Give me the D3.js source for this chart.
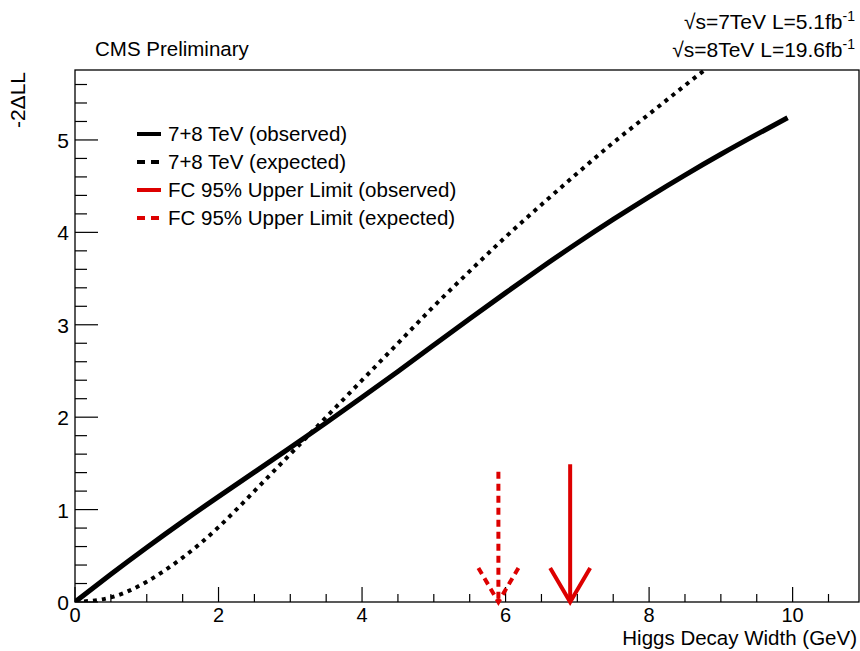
<!DOCTYPE html>
<html><head><meta charset="utf-8">
<script src="https://cdn.jsdelivr.net/npm/d3@7"></script>
<style>body{margin:0;background:#fff}svg{display:block}text{font-family:"Liberation Sans",Arial,Helvetica,sans-serif}</style>
</head><body><svg id="c" width="860" height="651"></svg>
<script>
// ---- data ----
const obsX = [0, 0.5, 1, 1.5, 2, 2.5, 3, 3.5, 4, 4.5, 5, 5.5, 6, 6.5, 7, 7.5, 8, 8.5, 9, 9.5, 9.93];
const obsY = [0, 0.3, 0.59, 0.87, 1.14, 1.405, 1.67, 1.94, 2.215, 2.495, 2.78, 3.065, 3.345, 3.62, 3.885, 4.14, 4.385, 4.62, 4.845, 5.06, 5.24];
const expX = [0, 0.5, 1, 1.5, 2, 2.5, 3, 3.5, 4, 4.5, 5, 5.5, 6, 6.5, 7, 7.5, 8, 8.5, 9, 9.5];
const expY = [0, 0.05, 0.22, 0.48, 0.81, 1.2, 1.6, 2.0, 2.4, 2.8, 3.2, 3.58, 3.95, 4.3, 4.64, 4.97, 5.28, 5.59, 5.89, 6.18];
const limitObs = 6.9, limitExp = 5.9;
const legendLabels = ["7+8 TeV (observed)", "7+8 TeV (expected)", "FC 95% Upper Limit (observed)", "FC 95% Upper Limit (expected)"];
const xMajorTicks = [0, 2, 4, 6, 8, 10];
const yMajorTicks = [0, 1, 2, 3, 4, 5];

const svg = d3.select("#c");
const L = 75, R = 859, T = 70, B = 602;
const x = d3.scaleLinear().domain([0, 10.925]).range([L, R]);
const y = d3.scaleLinear().domain([0, 5.757]).range([B, T]);
const red = "#dd0000";

svg.append("clipPath").attr("id", "clip").append("rect").attr("x", L).attr("y", T).attr("width", R - L).attr("height", B - T);

// frame
svg.append("rect").attr("x", L).attr("y", T).attr("width", R - L).attr("height", B - T)
  .attr("fill", "none").attr("stroke", "#000").attr("stroke-width", 1.3);

// ticks
const xMinor = d3.range(0, 10.9, 0.5).filter(v => !xMajorTicks.includes(v));
const yMinor = d3.range(0, 5.75, 0.2).map(v => +v.toFixed(1)).filter(v => !yMajorTicks.includes(v));
const g = svg.append("g").attr("stroke", "#000").attr("stroke-width", 1.2);
xMajorTicks.forEach(v => g.append("line").attr("x1", x(v)).attr("x2", x(v)).attr("y1", B).attr("y2", B - 15));
xMinor.forEach(v => g.append("line").attr("x1", x(v)).attr("x2", x(v)).attr("y1", B).attr("y2", B - 8));
yMajorTicks.forEach(v => g.append("line").attr("x1", L).attr("x2", L + 23).attr("y1", y(v)).attr("y2", y(v)));
yMinor.forEach(v => g.append("line").attr("x1", L).attr("x2", L + 12).attr("y1", y(v)).attr("y2", y(v)));

// tick labels
xMajorTicks.forEach(v => svg.append("text").attr("x", x(v)).attr("y", 622).attr("text-anchor", "middle")
  .attr("font-size", 20).text(v));
yMajorTicks.forEach(v => svg.append("text").attr("x", 69).attr("y", y(v) + 8).attr("text-anchor", "end")
  .attr("font-size", 21).text(v));

// axis titles
svg.append("text").attr("x", 857).attr("y", 645).attr("text-anchor", "end").attr("font-size", 20.5).text("Higgs Decay Width (GeV)");
svg.append("text").attr("transform", "translate(25,72) rotate(-90)").attr("text-anchor", "end").attr("font-size", 21).text("-2ΔLL");

// top texts
svg.append("text").attr("x", 95).attr("y", 56).attr("font-size", 20.5).text("CMS Preliminary");
function lumi(yb, s, l) {
  const t = svg.append("text").attr("x", 855).attr("y", yb).attr("text-anchor", "end").attr("font-size", 21);
  t.append("tspan").text("√");
  t.append("tspan").text("s=" + s + "TeV L=" + l + "fb");
  t.append("tspan").attr("dy", -8).attr("font-size", 14).text("-1");
}
lumi(29, "7", "5.1");
lumi(57, "8", "19.6");

// curves
const line = d3.line().x(d => x(d[0])).y(d => y(d[1])).curve(d3.curveNatural);
const plot = svg.append("g").attr("clip-path", "url(#clip)");
plot.append("path").datum(expX.map((v, i) => [v, expY[i]])).attr("d", line)
  .attr("fill", "none").attr("stroke", "#000").attr("stroke-width", 4).attr("stroke-dasharray", "4,5");
plot.append("path").datum(obsX.map((v, i) => [v, obsY[i]])).attr("d", line)
  .attr("fill", "none").attr("stroke", "#000").attr("stroke-width", 5);

// arrows
function arrow(xv, top, dash) {
  const xa = x(xv);
  const a = svg.append("g").attr("stroke", red).attr("stroke-width", 4).attr("fill", "none");
  if (dash) a.attr("stroke-dasharray", "7,5");
  a.append("line").attr("x1", xa).attr("x2", xa).attr("y1", y(top)).attr("y2", y(0));
  a.append("path").attr("d", `M${xa - 20},${y(0) - 34}L${xa},${y(0)}L${xa + 20},${y(0) - 34}`);
}
arrow(limitExp, 1.41, true);
arrow(limitObs, 1.49, false);

// legend
const styles = [
  {c: "#000", d: null}, {c: "#000", d: "8,6"}, {c: red, d: null}, {c: red, d: "8,6"}
];
legendLabels.forEach((lab, i) => {
  const yy = 134 + i * 28;
  svg.append("line").attr("x1", 137).attr("x2", 161).attr("y1", yy).attr("y2", yy)
    .attr("stroke", styles[i].c).attr("stroke-width", 4).attr("stroke-dasharray", styles[i].d);
  svg.append("text").attr("x", 168).attr("y", yy + 7).attr("font-size", 20.5).text(lab);
});
</script></body></html>
